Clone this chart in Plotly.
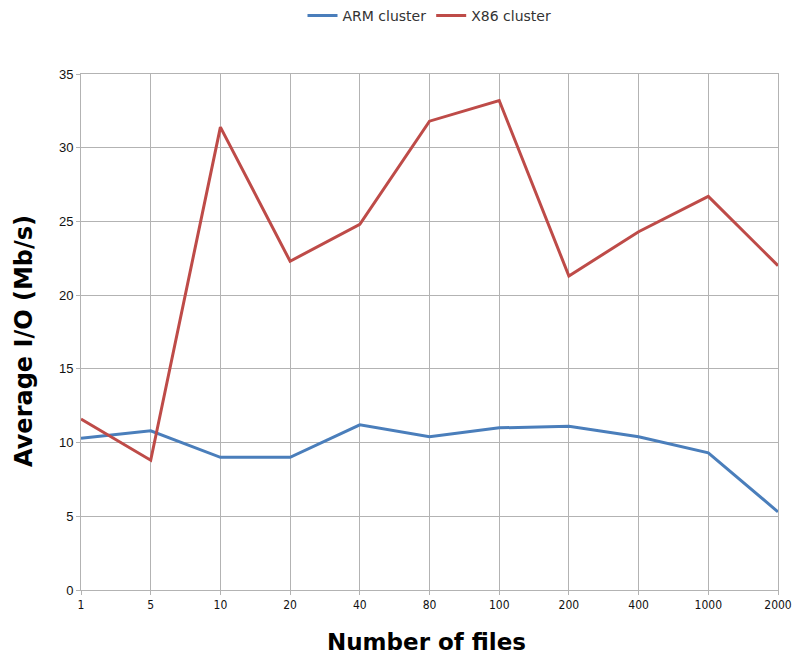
import plotly.graph_objects as go

categories = ["1", "5", "10", "20", "40", "80", "100", "200", "400", "1000", "2000"]
arm_values = [10.3, 10.8, 9.0, 9.0, 11.2, 10.4, 11.0, 11.1, 10.4, 9.3, 5.3]
x86_values = [11.6, 8.8, 31.4, 22.3, 24.8, 31.8, 33.2, 21.3, 24.3, 26.7, 22.0]
y_ticks = [0, 5, 10, 15, 20, 25, 30, 35]

L, R, T, B = 81, 18, 74, 70
W, H = 796, 660
pw, ph = W - L - R, H - T - B

fig = go.Figure()
fig.add_trace(go.Scatter(x=categories, y=arm_values, mode="lines", name="ARM cluster",
                         line=dict(color="#4a7ebb", width=3)))
fig.add_trace(go.Scatter(x=categories, y=x86_values, mode="lines", name="X86 cluster",
                         line=dict(color="#be4b48", width=3)))

fig.update_layout(
    width=W, height=H,
    margin=dict(l=L, r=R, t=T, b=B),
    paper_bgcolor="white", plot_bgcolor="white",
    font=dict(family="Liberation Sans, Arial, sans-serif", size=12, color="#333"),
    legend=dict(orientation="h", x=0.5, xanchor="center", y=1.0, yref="container",
                yanchor="top", itemwidth=30,
                font=dict(family="DejaVu Sans, sans-serif", size=14, color="#333")),
    showlegend=True,
    annotations=[
        dict(text="<b>Number of files</b>", xref="paper", yref="paper",
             x=(426 - L) / pw, y=(H - B - 642) / ph, xanchor="center", yanchor="middle",
             showarrow=False, font=dict(family="DejaVu Sans, sans-serif", size=23, color="#000")),
        dict(text="<b>Average I/O (Mb/s)</b>", xref="paper", yref="paper",
             x=(24 - L) / pw, y=(H - B - 341) / ph, xanchor="center", yanchor="middle",
             textangle=-90, showarrow=False,
             font=dict(family="DejaVu Sans, sans-serif", size=24, color="#000")),
    ],
)
fig.update_xaxes(
    type="category", range=[0, len(categories) - 1], automargin=False,
    showgrid=True, gridcolor="#b3b3b3", gridwidth=1,
    showline=True, linecolor="#b3b3b3", linewidth=1, mirror=True,
    ticks="outside", ticklen=4, tickcolor="#b3b3b3",
    tickfont=dict(family="DejaVu Sans Condensed, Liberation Sans Narrow, sans-serif", size=12, color="#111"),
)
fig.update_yaxes(
    range=[0, 35], tickvals=y_ticks, automargin=False,
    showgrid=True, gridcolor="#b3b3b3", gridwidth=1, zeroline=False,
    showline=True, linecolor="#b3b3b3", linewidth=1, mirror=True,
    ticks="outside", ticklen=4, tickcolor="#b3b3b3",
    tickfont=dict(size=13, color="#111"),
)

fig.write_html(
    "out.html",
    config={"displayModeBar": False},
    post_script="document.body.style.margin='0';document.body.style.overflow='hidden';",
)
